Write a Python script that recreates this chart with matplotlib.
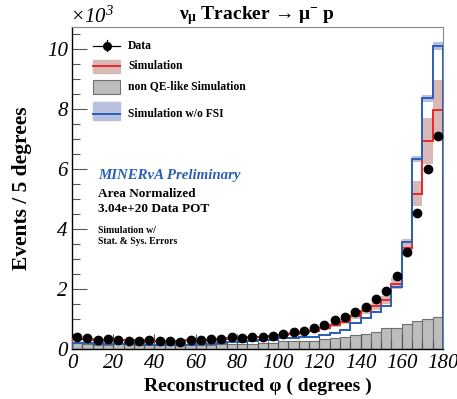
import numpy as np
import matplotlib
matplotlib.use("Agg")
import matplotlib.pyplot as plt
from matplotlib.patches import Rectangle
from matplotlib.lines import Line2D
from matplotlib.ticker import MultipleLocator

plt.rcParams['font.family'] = ['Liberation Serif', 'DejaVu Serif']
plt.rcParams['font.style'] = 'italic'   # etiquetas de ejes en cursiva
plt.rcParams['mathtext.fontset'] = 'custom'
plt.rcParams['mathtext.rm'] = 'Liberation Serif'
plt.rcParams['mathtext.it'] = 'Liberation Serif:italic'
plt.rcParams['mathtext.bf'] = 'Liberation Serif:bold'

# bins de 5 grados, valores en unidades de 10^3 eventos
edges = np.arange(0, 181, 5)

data = [0.38, 0.35, 0.28, 0.31, 0.28, 0.26, 0.26, 0.27, 0.25, 0.25, 0.22, 0.30,
        0.29, 0.31, 0.32, 0.37, 0.36, 0.39, 0.39, 0.42, 0.49, 0.54, 0.57, 0.67,
        0.78, 0.96, 1.06, 1.23, 1.38, 1.64, 1.92, 2.41, 3.21, 4.53, 6.01, 7.12]
data_err = [0.02, 0.02, 0.02, 0.02, 0.02, 0.02, 0.02, 0.02, 0.02, 0.02, 0.02, 0.02,
            0.02, 0.02, 0.02, 0.02, 0.02, 0.02, 0.02, 0.02, 0.02, 0.02, 0.02, 0.03,
            0.03, 0.03, 0.03, 0.04, 0.04, 0.04, 0.04, 0.05, 0.05, 0.06, 0.07, 0.08]

sim = [0.32, 0.31, 0.29, 0.29, 0.28, 0.27, 0.27, 0.26, 0.26, 0.26, 0.26, 0.28,
       0.29, 0.30, 0.32, 0.34, 0.35, 0.37, 0.39, 0.42, 0.46, 0.50, 0.54, 0.59,
       0.67, 0.78, 0.89, 1.08, 1.25, 1.41, 1.62, 2.17, 3.37, 5.18, 6.93, 7.97]
sim_err = [0.03, 0.03, 0.03, 0.03, 0.03, 0.03, 0.03, 0.03, 0.03, 0.03, 0.03, 0.03,
           0.03, 0.03, 0.03, 0.03, 0.03, 0.03, 0.04, 0.04, 0.04, 0.05, 0.05, 0.05,
           0.06, 0.07, 0.08, 0.09, 0.11, 0.12, 0.14, 0.18, 0.28, 0.43, 0.77, 1.00]

sim_nofsi = [0.19, 0.19, 0.15, 0.15, 0.16, 0.14, 0.14, 0.13, 0.13, 0.12, 0.12, 0.13,
             0.14, 0.16, 0.20, 0.22, 0.22, 0.25, 0.28, 0.30, 0.34, 0.36, 0.37, 0.39,
             0.45, 0.53, 0.63, 0.84, 1.03, 1.23, 1.42, 2.05, 3.55, 6.35, 8.36, 10.12]
nofsi_err = [0.01, 0.01, 0.01, 0.01, 0.01, 0.01, 0.01, 0.01, 0.01, 0.01, 0.01, 0.01,
             0.01, 0.01, 0.01, 0.01, 0.01, 0.01, 0.01, 0.01, 0.01, 0.01, 0.01, 0.01,
             0.02, 0.02, 0.02, 0.02, 0.03, 0.03, 0.03, 0.04, 0.06, 0.10, 0.12, 0.14]

non_qe = [0.17, 0.14, 0.13, 0.12, 0.17, 0.14, 0.13, 0.13, 0.12, 0.12, 0.12, 0.13,
          0.13, 0.13, 0.14, 0.14, 0.15, 0.16, 0.20, 0.20, 0.25, 0.25, 0.25, 0.25,
          0.31, 0.35, 0.39, 0.44, 0.49, 0.56, 0.67, 0.70, 0.82, 0.93, 0.97, 1.04]

xticks = [0, 20, 40, 60, 80, 100, 120, 140, 160, 180]
yticks = [0, 2, 4, 6, 8, 10]

sim = np.array(sim)
sim_err = np.array(sim_err)
sim_nofsi = np.array(sim_nofsi)
nofsi_err = np.array(nofsi_err)
centers = 0.5 * (edges[:-1] + edges[1:])

col_red = "#e8282b"
col_red_band = "#d9b8b8"
col_blue = "#2a5fb8"
col_blue_band = "#b8c0e0"
col_gray = "#bdbdbd"

fig = plt.figure(figsize=(4.57, 3.99), dpi=100)
ax = fig.add_axes([72 / 457, 1 - 348.5 / 399, 371 / 457, 321.2 / 399])

# histogramas
ax.bar(centers, non_qe, width=5, color=col_gray, edgecolor="#707070", linewidth=0.8, zorder=1)
ax.stairs(sim + sim_err, edges, baseline=sim - sim_err, fill=True, color=col_red_band, zorder=2)
ax.stairs(sim_nofsi + nofsi_err, edges, baseline=sim_nofsi - nofsi_err, fill=True,
          color=col_blue_band, zorder=2)
ax.stairs(sim, edges, color=col_red, linewidth=1.4, zorder=3)
ax.stairs(sim_nofsi, edges, color=col_blue, linewidth=1.4, zorder=3)
ax.errorbar(centers, data, yerr=data_err, fmt="o", color="black", markersize=6,
            elinewidth=1, capsize=0, zorder=4)

ax.set_xlim(0, 180)
ax.set_ylim(0, 10.74)
ax.set_xticks(xticks, [str(v) for v in xticks])
ax.set_yticks(yticks, [str(v) for v in yticks])
ax.xaxis.set_minor_locator(MultipleLocator(5))
ax.yaxis.set_minor_locator(MultipleLocator(0.5))
ax.tick_params(which="both", direction="in", color="#555555", top=False, right=False)
ax.tick_params(which="major", length=11, width=0.8)
ax.tick_params(which="minor", length=6, width=0.8)
ax.tick_params(axis="both", labelsize=15)
ax.tick_params(axis="x", pad=4)
ax.tick_params(axis="y", pad=3)
for s in ["top", "right"]:
    ax.spines[s].set_color("#888888")
for s in ["left", "bottom"]:
    ax.spines[s].set_color("black")
    ax.spines[s].set_linewidth(1.0)

ax.set_xlabel("Reconstructed φ ( degrees )", fontsize=14, fontweight="bold",
              fontstyle="normal", labelpad=3)
ax.set_ylabel("Events / 5 degrees", fontsize=15.5, fontweight="bold",
              fontstyle="normal", labelpad=11)

fig.text(257 / 457, 1 - 16 / 399,
         r"$\mathregular{\nu_{\mu}}$ Tracker → $\mathregular{\mu^{-}}$ p",
         fontsize=14, fontweight="bold", fontstyle="normal", ha="center", va="center")
fig.text(70 / 457, 1 - 17 / 399, r"$\mathregular{\times10^{3}}$", fontsize=15,
         fontstyle="italic", ha="left", va="center")

# leyenda dibujada a mano
tr = ax.transAxes
x0, x1, xt = 0.0566, 0.1294, 0.151
leg = dict(transform=tr, fontsize=8.4, fontweight="bold", fontstyle="normal", va="center")
ax.add_line(Line2D([x0, x1], [0.942, 0.942], color="black", lw=0.9, transform=tr))
ax.add_line(Line2D([(x0 + x1) / 2] * 2, [0.925, 0.959], color="black", lw=0.9, transform=tr))
ax.add_line(Line2D([(x0 + x1) / 2], [0.942], marker="o", color="black", ms=5.5, transform=tr))
ax.text(xt, 0.942, "Data", **leg)

ax.add_patch(Rectangle((x0, 0.858), x1 - x0, 0.040, color=col_red_band, transform=tr))
ax.add_line(Line2D([x0, x1], [0.878, 0.878], color=col_red, lw=1.4, transform=tr))
ax.text(xt, 0.878, "Simulation", **leg)

ax.add_patch(Rectangle((x0, 0.792), x1 - x0, 0.044, facecolor=col_gray, edgecolor="#707070",
                       lw=0.8, transform=tr))
ax.text(xt, 0.816, "non QE-like Simulation", **leg)

ax.add_patch(Rectangle((x0, 0.711), x1 - x0, 0.056, color=col_blue_band, transform=tr))
ax.add_line(Line2D([x0, x1], [0.730, 0.730], color=col_blue, lw=1.4, transform=tr))
ax.text(xt, 0.730, "Simulation w/o FSI", **leg)

# textos
ax.text(0.070, 0.540, "MINERνA Preliminary", transform=tr, fontsize=10.7, fontweight="bold",
        fontstyle="italic", color="#2a5fb8", va="center")
txt = dict(transform=tr, fontweight="bold", fontstyle="normal", va="center")
ax.text(0.070, 0.481, "Area Normalized", fontsize=9.5, **txt)
ax.text(0.070, 0.434, "3.04e+20 Data POT", fontsize=9.5, **txt)
ax.text(0.070, 0.366, "Simulation w/", fontsize=7, **txt)
ax.text(0.070, 0.332, "Stat. & Sys. Errors", fontsize=7, **txt)

fig.savefig("out.png", dpi=100)
